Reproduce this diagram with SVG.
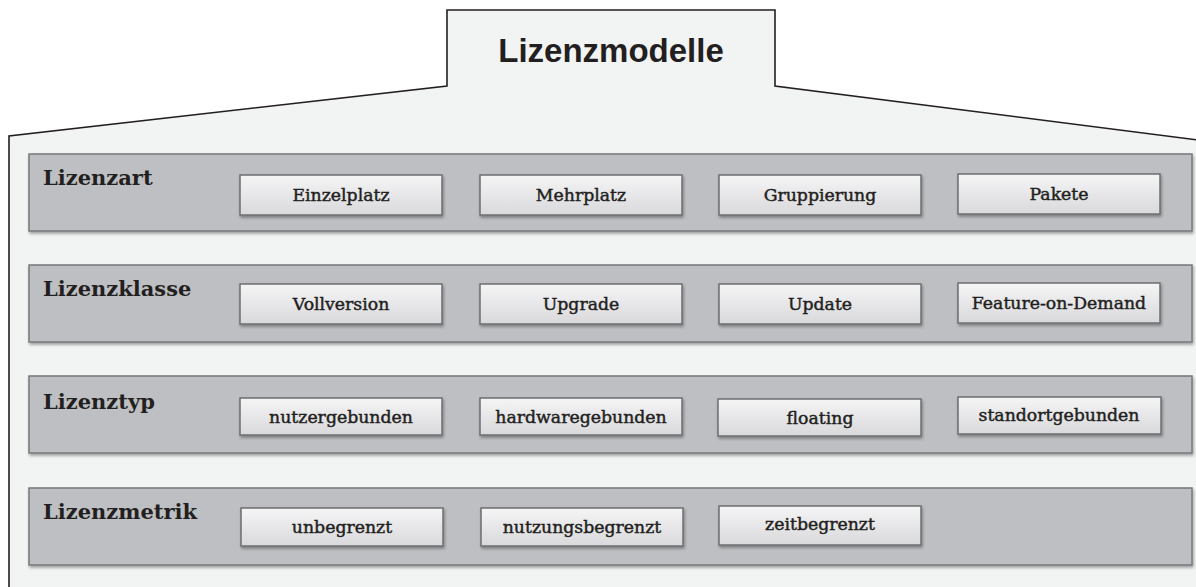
<svg xmlns="http://www.w3.org/2000/svg" width="1196" height="587" viewBox="0 0 1196 587">
  <defs>
    <linearGradient id="boxFill" x1="0" y1="0" x2="0" y2="1">
      <stop offset="0" stop-color="#f5f5f6"/>
      <stop offset="1" stop-color="#d9d9dc"/>
    </linearGradient>
    <filter id="shadow" x="-5%" y="-20%" width="110%" height="150%">
      <feDropShadow dx="1" dy="2" stdDeviation="1.5" flood-color="#000" flood-opacity="0.35"/>
    </filter>
    <style>
      .frame { fill: #f2f3f3; stroke: #231f20; stroke-width: 1.6; }
      .band { fill: #bebfc2; stroke: #77787b; stroke-width: 1.5; filter: url(#shadow); }
      .box { fill: url(#boxFill); stroke: #6d6e71; stroke-width: 1.5; filter: url(#shadow); }
      .title { font-family: "Liberation Sans", Arial, sans-serif; font-weight: bold; font-size: 33px; fill: #231f20; text-anchor: middle; }
      .label { font-family: "DejaVu Serif", "Liberation Serif", serif; font-weight: bold; font-size: 21px; fill: #231f20; }
      .item { font-family: "DejaVu Serif", "Liberation Serif", serif; font-size: 17.3px; fill: #231f20; stroke: #231f20; stroke-width: 0.45; text-anchor: middle; }
    </style>
  </defs>

  <!-- house-shaped outer frame with title tab -->
  <g id="lizenzmodelle">
    <path class="frame" d="M9,590 L9,136 L447,86 L447,10 L775,10 L775,86 L1198,140 L1198,590 Z"/>
    <text class="title" x="611" y="62">Lizenzmodelle</text>
  </g>

  <!-- Lizenzart -->
  <g id="lizenzart">
    <rect class="band" x="29" y="154" width="1163" height="77"/>
    <text class="label" x="43" y="185">Lizenzart</text>
    <g id="einzelplatz"><rect class="box" x="240" y="175" width="202" height="40"/><text class="item" x="341" y="201">Einzelplatz</text></g>
    <g id="mehrplatz"><rect class="box" x="480" y="175" width="202" height="40"/><text class="item" x="581" y="201">Mehrplatz</text></g>
    <g id="gruppierung"><rect class="box" x="719" y="175" width="202" height="40"/><text class="item" x="820" y="201">Gruppierung</text></g>
    <g id="pakete"><rect class="box" x="958" y="174" width="202" height="40"/><text class="item" x="1059" y="200">Pakete</text></g>
  </g>

  <!-- Lizenzklasse -->
  <g id="lizenzklasse">
    <rect class="band" x="29" y="265" width="1163" height="77"/>
    <text class="label" x="43" y="296">Lizenzklasse</text>
    <g id="vollversion"><rect class="box" x="240" y="284" width="202" height="40"/><text class="item" x="341" y="310">Vollversion</text></g>
    <g id="upgrade"><rect class="box" x="480" y="284" width="202" height="40"/><text class="item" x="581" y="310">Upgrade</text></g>
    <g id="update"><rect class="box" x="719" y="284" width="202" height="40"/><text class="item" x="820" y="310">Update</text></g>
    <g id="feature-on-demand"><rect class="box" x="958" y="283" width="202" height="40"/><text class="item" x="1059" y="309">Feature-on-Demand</text></g>
  </g>

  <!-- Lizenztyp -->
  <g id="lizenztyp">
    <rect class="band" x="29" y="376" width="1163" height="77"/>
    <text class="label" x="43" y="409">Lizenztyp</text>
    <g id="nutzergebunden"><rect class="box" x="240" y="398" width="202" height="37"/><text class="item" x="341" y="423">nutzergebunden</text></g>
    <g id="hardwaregebunden"><rect class="box" x="480" y="398" width="202" height="37"/><text class="item" x="581" y="423">hardwaregebunden</text></g>
    <g id="floating"><rect class="box" x="718" y="399" width="203" height="37"/><text class="item" x="820" y="424">floating</text></g>
    <g id="standortgebunden"><rect class="box" x="958" y="397" width="203" height="37"/><text class="item" x="1059" y="421">standortgebunden</text></g>
  </g>

  <!-- Lizenzmetrik -->
  <g id="lizenzmetrik">
    <rect class="band" x="29" y="488" width="1163" height="77"/>
    <text class="label" x="43" y="519">Lizenzmetrik</text>
    <g id="unbegrenzt"><rect class="box" x="241" y="508" width="202" height="38"/><text class="item" x="342" y="533">unbegrenzt</text></g>
    <g id="nutzungsbegrenzt"><rect class="box" x="481" y="508" width="202" height="38"/><text class="item" x="582" y="533">nutzungsbegrenzt</text></g>
    <g id="zeitbegrenzt"><rect class="box" x="719" y="506" width="202" height="39"/><text class="item" x="820" y="530">zeitbegrenzt</text></g>
  </g>
</svg>
